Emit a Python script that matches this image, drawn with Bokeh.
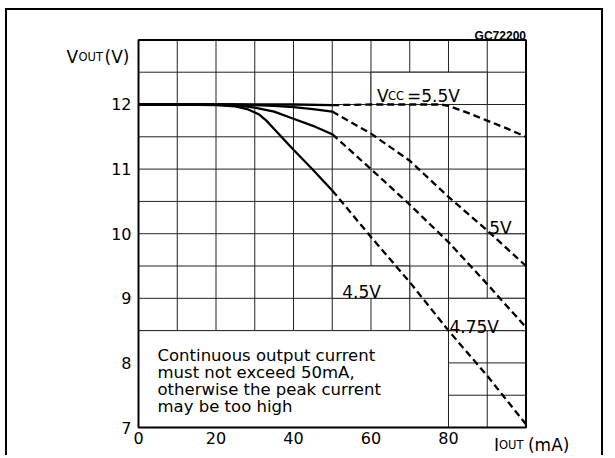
from bokeh.plotting import figure
from bokeh.models import Label, FixedTicker, Range1d
from bokeh.embed import file_html
from bokeh.resources import INLINE

# ---- data ----
X_MIN, X_MAX = 0, 100          # plotted current range (mA)
Y_MIN, Y_MAX = 7, 13           # plotted voltage range (V)
x_ticks = [0, 20, 40, 60, 80]
y_ticks = [7, 8, 9, 10, 11, 12]
x_grid = [10, 20, 30, 40, 50, 60, 70, 80, 90]
y_grid = [7.5, 8, 8.5, 9, 9.5, 10, 10.5, 11, 11.5, 12, 12.5]

# solid (continuous operation) part, 0..50 mA
i55_s = [0, 10, 20, 30, 40, 50]
v55_s = [12.0, 12.0, 12.0, 12.0, 12.0, 11.99]
i50_s = [0, 10, 20, 25, 30, 35, 40, 45, 50]
v50_s = [12.0, 12.0, 12.0, 12.0, 11.99, 11.98, 11.96, 11.93, 11.89]
i475_s = [0, 10, 20, 25, 30, 35, 40, 45, 50]
v475_s = [12.0, 12.0, 12.0, 11.99, 11.95, 11.89, 11.78, 11.67, 11.54]
i45_s = [0, 10, 20, 25, 28, 31, 33, 35, 40, 45, 50]
v45_s = [12.0, 12.0, 11.99, 11.97, 11.93, 11.85, 11.75, 11.62, 11.3, 10.99, 10.67]

# dashed (peak) part, 50..100 mA
i55_d = [50, 60, 70, 78, 80, 85, 90, 95, 100]
v55_d = [11.99, 12.0, 12.0, 12.0, 11.98, 11.87, 11.75, 11.63, 11.5]
i50_d = [50, 60, 70, 80, 90, 100]
v50_d = [11.89, 11.55, 11.13, 10.57, 10.05, 9.5]
i475_d = [50, 60, 70, 80, 90, 100]
v475_d = [11.54, 11.0, 10.45, 9.87, 9.22, 8.55]
i45_d = [50, 60, 70, 80, 90, 100]
v45_d = [10.67, 9.95, 9.25, 8.5, 7.8, 7.05]

note_lines = ["Continuous output current", "must not exceed 50mA,",
              "otherwise the peak current", "may be too high"]

FONT = "DejaVu Sans"
INK = "#000000"
GRID = "#222222"

# canvas: 598 x 447 px placed at page (7, 10); plot box px x 138..525, y 39..427
p = figure(width=598, height=447,
           x_range=Range1d(-33.81, 120.52), y_range=Range1d(6.536, 13.455),
           output_backend="svg", toolbar_location=None,
           min_border_left=0, min_border_right=0, min_border_top=0, min_border_bottom=0,
           background_fill_color="white", border_fill_color="white",
           styles={"margin-left": "5px", "margin-top": "8px",
                   "border-left": "2px solid black", "border-top": "2px solid black",
                   "border-right": "2px solid black"})
p.outline_line_color = None
p.xgrid.visible = False
p.ygrid.visible = False

# axes drawn at the edges of the plot box
p.xaxis.fixed_location = Y_MIN
p.yaxis.fixed_location = X_MIN
p.xaxis.ticker = FixedTicker(ticks=x_ticks)
p.yaxis.ticker = FixedTicker(ticks=y_ticks)
for ax in (p.xaxis, p.yaxis):
    ax.axis_line_color = None
    ax.major_tick_line_color = None
    ax.minor_tick_line_color = None
    ax.major_tick_out = 0
    ax.major_tick_in = 0
    ax.major_label_text_font = FONT
    ax.major_label_text_font_size = "16px"
    ax.major_label_text_color = INK
p.xaxis.major_label_standoff = 4
p.yaxis.major_label_standoff = 7

# grid
n_x, n_y = len(x_grid), len(y_grid)
p.segment(x0=x_grid, y0=[Y_MIN] * n_x, x1=x_grid, y1=[Y_MAX] * n_x,
          line_color=GRID, line_width=1)
p.segment(x0=[X_MIN] * n_y, y0=y_grid, x1=[X_MAX] * n_y, y1=y_grid,
          line_color=GRID, line_width=1)

# white boxes behind the note and the labels
p.quad(left=[0], right=[80], bottom=[7], top=[8.5], fill_color="white",
       line_color=GRID, line_width=1)
p.quad(left=[60, 90, 50, 80], right=[90, 100, 70, 100],
       bottom=[12, 10, 9, 8.5], top=[12.5, 10.5, 9.5, 9],
       fill_color="white", line_color=GRID, line_width=1)

# plot box
p.quad(left=[X_MIN], right=[X_MAX], bottom=[Y_MIN], top=[Y_MAX], fill_color=None,
       line_color=INK, line_width=2)

LW = 2.3
DASH = "7 4"
for xs, ys in ((i55_s, v55_s), (i50_s, v50_s), (i475_s, v475_s), (i45_s, v45_s)):
    p.line(xs, ys, line_color=INK, line_width=LW)
for xs, ys in ((i55_d, v55_d), (i50_d, v50_d), (i475_d, v475_d), (i45_d, v45_d)):
    p.line(xs, ys, line_color=INK, line_width=LW, line_dash=DASH)


def lab(text, x, y, dx, dy, size="17px", align="left", baseline="alphabetic",
        style="normal", font=FONT):
    p.add_layout(Label(x=x, y=y, x_offset=dx, y_offset=dy, text=text,
                       text_font=font, text_font_size=size, text_font_style=style,
                       text_align=align, text_baseline=baseline, text_color=INK))


# axis titles
lab("V", 0, 13, -72, -17, size="17px")
lab("OUT", 0, 13, -60, -17, size="11.5px")
lab("(V)", 0, 13, -34, -17, size="17px")
lab("I", 100, 7, -32, -17, size="17px")
lab("OUT", 100, 7, -27, -17, size="11.5px")
lab("(mA)", 100, 7, 2, -17, size="17px")

# code
lab("GC72200", 100, 13, 0, 4, size="12px", align="right", style="bold",
    font="Liberation Sans")

# curve labels
lab("V", 60, 12, 6, 8, size="17px")
lab("CC", 60, 12, 17, 8, size="11.5px")
lab("=5.5V", 60, 12, 36, 8, size="17px")
lab("5V", 90, 10, 2, 6, size="17px")
lab("4.5V", 50, 9, 10, 6, size="17px")
lab("4.75V", 80, 8.5, 1, 4, size="17px")

# note
for k, t in enumerate(note_lines):
    lab(t, 0, 8.5, 19, -25 - 17 * k, size="16.5px")

open("out.html", "w").write(file_html(p, INLINE))
